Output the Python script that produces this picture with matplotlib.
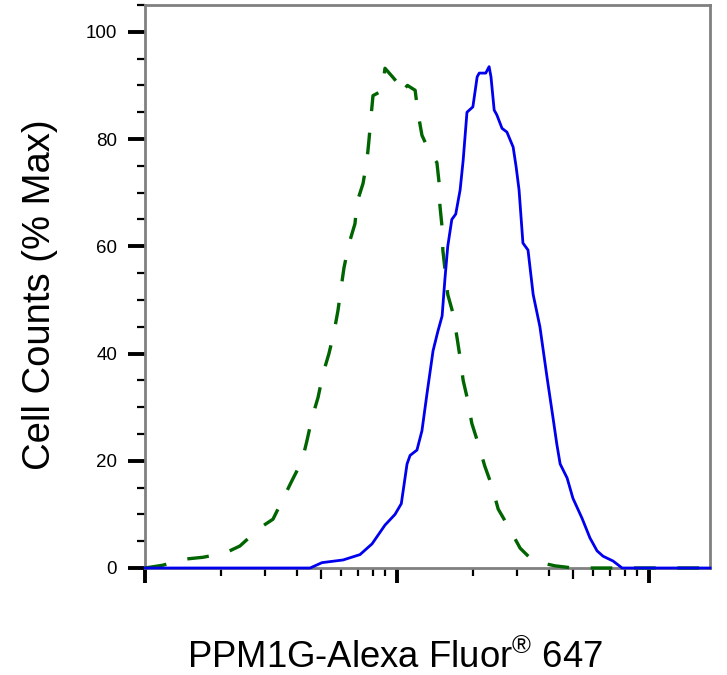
import matplotlib
matplotlib.use("Agg")
import matplotlib.pyplot as plt
from matplotlib.ticker import LogLocator, MultipleLocator, NullLocator, NullFormatter

# stained sample (solid blue)
blue_x = [1.0, 4.52, 5.04, 6.11, 7.13, 7.96, 8.96, 9.82, 10.4, 10.96, 11.27, 12.0,
          12.56, 13.15, 13.9, 14.5, 15.1, 15.5, 15.9, 16.5, 17.1, 17.8, 18.3, 18.95,
          20.0, 20.8, 21.2, 22.5, 23.2, 23.6, 24.3, 24.9, 26.1, 27.3, 28.9, 29.7,
          30.5, 31.6, 33.1, 34.7, 36.9, 39.4, 41.6, 43.1, 44.4, 47.3, 49.9, 54.2,
          58.3, 62.2, 65.7, 72.0, 78.2, 174.6]
blue_y = [0, 0, 1, 1.5, 2.5, 4.5, 8, 10, 12, 19.4, 21, 22,
          25.6, 32.5, 40.5, 44, 47, 54, 60, 65, 66, 70.5, 76, 85,
          86, 91.6, 92.3, 92.3, 93.5, 91.6, 85.4, 84.5, 82, 81.3, 78.5, 74.8,
          70.5, 60.6, 59.3, 51, 45, 35.5, 28, 23, 19.4, 16.8, 13, 9.3,
          5.6, 3.2, 2.2, 1.3, 0, 0]

# isotype control (dashed green)
green_x = [1.0, 1.17, 1.47, 1.70, 2.08, 2.38, 2.86, 3.22, 3.53, 3.83, 4.20, 4.39,
           4.60, 4.86, 5.09, 5.37, 5.62, 5.83, 5.99, 6.16, 6.45, 6.81, 6.94, 7.33,
           7.60, 7.74, 7.88, 8.03, 8.72, 8.96, 9.64, 10.0, 10.3, 11.0, 11.8, 12.1,
           12.56, 13.5, 14.4, 14.7, 14.8, 15.1, 15.2, 15.9, 16.7, 17.3, 17.8, 18.3,
           19.1, 19.8, 21.0, 22.3, 23.8, 25.2, 27.6, 30.8, 34.7, 42.4, 49.9, 174.6]
green_y = [0, 0.5, 1.7, 2, 2.8, 4.1, 7.5, 9.1, 12.9, 16.3, 20, 23.7,
           28, 31.8, 36.3, 40, 43.9, 48, 52, 56, 60.5, 64.2, 68.2, 71.7,
           76, 79.8, 84, 88.1, 89.0, 93.2, 91.5, 90.6, 88.5, 90.0, 89.1, 85,
           80.7, 77.5, 75.6, 71.7, 67.6, 63.5, 59.3, 51, 47.4, 43, 39.2, 35,
           31.2, 27, 23.2, 19, 15.3, 11, 7.8, 3.7, 1.3, 0.4, 0, 0]

y_ticks = [0, 20, 40, 60, 80, 100]

plt.rcParams['font.family'] = ['Liberation Sans', 'DejaVu Sans']
plt.rcParams['mathtext.fontset'] = 'custom'
plt.rcParams['mathtext.rm'] = 'Liberation Sans'
plt.rcParams['mathtext.it'] = 'Liberation Sans'
plt.rcParams['mathtext.default'] = 'regular'


def main():
    fig = plt.figure(figsize=(7.27, 6.75), dpi=100)
    ax = fig.add_axes([145 / 727, 1 - 568 / 675, 565 / 727, 563 / 675])

    ax.plot(green_x, green_y, color='#006400', lw=2.4,
            linestyle=(0, (6.5, 6.5)), clip_on=False, zorder=3)
    ax.plot(blue_x, blue_y, color='#0000ee', lw=2.0, clip_on=False, zorder=4)

    ax.set_xscale('log')
    ax.set_xlim(1, 10 ** 2.242)
    ax.set_ylim(0, 105)

    for s in ax.spines.values():
        s.set_color('#808080')
        s.set_linewidth(2)

    ax.xaxis.set_major_locator(LogLocator(base=10, subs=[1.0]))
    ax.xaxis.set_minor_locator(LogLocator(base=10, subs=[2, 3, 4, 6, 7, 8, 9]))
    ax.xaxis.set_major_formatter(NullFormatter())
    ax.xaxis.set_minor_formatter(NullFormatter())
    ax.set_yticks(y_ticks)
    ax.yaxis.set_minor_locator(MultipleLocator(5))

    ax.tick_params(which='major', direction='out', color='black', width=2.8)
    ax.tick_params(axis='x', which='major', length=11)
    ax.tick_params(axis='y', which='major', length=12, pad=8, labelsize=13.5)
    ax.tick_params(which='minor', direction='out', color='black', width=1.6, length=6)

    # half-decade ticks are a bit longer
    sec = ax.secondary_xaxis('bottom')
    sec.set_xticks([5, 50])
    sec.xaxis.set_minor_locator(NullLocator())
    sec.tick_params(which='major', direction='out', color='black', width=1.6,
                    length=8, labelbottom=False)
    sec.spines['bottom'].set_visible(False)

    fig.text(40 / 727, 1 - 295 / 675, 'Cell Counts (% Max)', rotation=90,
             ha='center', va='center', fontsize=27.5)
    fig.text(395 / 727, 1 - 668 / 675, 'PPM1G-Alexa Fluor$^{®}$ 647',
             ha='center', va='baseline', fontsize=26.3)

    fig.savefig('out.png', dpi=100)


if __name__ == '__main__':
    main()
